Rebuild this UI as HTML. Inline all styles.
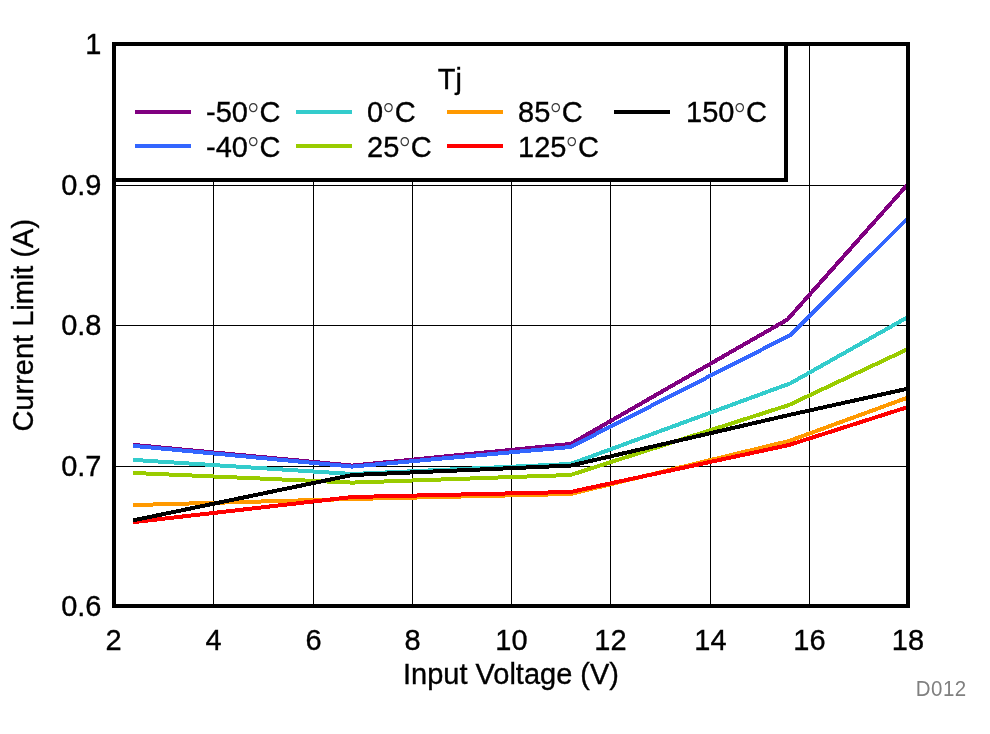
<!DOCTYPE html>
<html><head><meta charset="utf-8"><title>Current Limit vs Input Voltage</title>
<style>
html,body{margin:0;padding:0;background:#fff;}
body{width:990px;height:734px;overflow:hidden;}
svg{display:block;will-change:transform;}
text{font-family:"Liberation Sans", Arial, sans-serif;fill:#000;stroke:#000;stroke-width:0.35px;}
.deg{font-family:"DejaVu Sans",sans-serif;font-weight:200;stroke:none;fill:#383838;}
</style></head><body>
<svg width="990" height="734" viewBox="0 0 990 734">
<rect x="0" y="0" width="990" height="734" fill="#fff"/>

<g shape-rendering="crispEdges" fill="#000">
<rect x="213" y="46" width="1" height="558"/>
<rect x="313" y="46" width="1" height="558"/>
<rect x="412" y="46" width="1" height="558"/>
<rect x="511" y="46" width="1" height="558"/>
<rect x="610" y="46" width="1" height="558"/>
<rect x="710" y="46" width="1" height="558"/>
<rect x="809" y="46" width="1" height="558"/>
<rect x="116" y="185" width="790" height="1"/>
<rect x="116" y="325" width="790" height="1"/>
<rect x="116" y="466" width="790" height="1"/>
</g>
<rect x="116" y="46" width="668" height="132" fill="#fff" shape-rendering="crispEdges"/>
<g fill="none" stroke-width="4" stroke-linejoin="round" stroke-linecap="round" shape-rendering="crispEdges">
<polyline stroke="#800080" points="134.85,445.00 352.20,465.60 570.50,444.00 787.50,319.50 908.00,184.00"/>
<polyline stroke="#3366FF" points="134.85,446.00 352.20,466.60 570.50,447.00 790.50,335.00 908.00,218.00"/>
<polyline stroke="#33CCCC" points="134.85,460.00 352.20,474.00 570.50,464.00 790.50,383.30 908.00,317.00"/>
<polyline stroke="#99CC00" points="134.85,473.00 352.20,482.60 570.50,475.00 789.00,405.00 908.00,349.00"/>
<polyline stroke="#FF9900" points="134.85,505.00 352.20,499.00 570.50,494.00 789.00,441.00 908.00,397.50"/>
<polyline stroke="#FF0000" points="134.85,522.00 352.20,497.00 570.50,492.00 789.00,445.00 908.00,407.00"/>
<polyline stroke="#000000" points="134.85,520.00 352.20,475.00 570.50,465.60 789.00,415.00 908.00,388.60"/>
</g>
<g shape-rendering="crispEdges" fill="#000">
<rect x="112" y="42" width="798" height="4"/>
<rect x="112" y="604" width="798" height="4"/>
<rect x="112" y="42" width="4" height="566"/>
<rect x="906" y="42" width="4" height="566"/>
<rect x="784" y="46" width="4" height="136"/>
<rect x="116" y="178" width="672" height="4"/>
</g>
<g shape-rendering="crispEdges">
<rect x="135" y="110" width="56" height="4" fill="#800080"/>
<rect x="135" y="144" width="56" height="4" fill="#3366FF"/>
<rect x="296" y="110" width="56" height="4" fill="#33CCCC"/>
<rect x="296" y="144" width="56" height="4" fill="#99CC00"/>
<rect x="447" y="110" width="56" height="4" fill="#FF9900"/>
<rect x="447" y="144" width="56" height="4" fill="#FF0000"/>
<rect x="614" y="110" width="56" height="4" fill="#000000"/>
</g>
<g font-size="29">
<text transform="translate(437.8,89) scale(1,1.025)">Tj</text>
<text transform="translate(206,122) scale(1,1.025)">-50<tspan class="deg" font-size="32" dx="-2.6" dy="5.5">°</tspan><tspan dx="-1.8" dy="-5.5">C</tspan></text>
<text transform="translate(206,157) scale(1,1.025)">-40<tspan class="deg" font-size="32" dx="-2.6" dy="4.6">°</tspan><tspan dx="-1.8" dy="-4.6">C</tspan></text>
<text transform="translate(367,122) scale(1,1.025)">0<tspan class="deg" font-size="32" dx="-2.6" dy="5.5">°</tspan><tspan dx="-1.8" dy="-5.5">C</tspan></text>
<text transform="translate(367,157) scale(1,1.025)">25<tspan class="deg" font-size="32" dx="-2.6" dy="4.6">°</tspan><tspan dx="-1.8" dy="-4.6">C</tspan></text>
<text transform="translate(518,122) scale(1,1.025)">85<tspan class="deg" font-size="32" dx="-2.6" dy="5.5">°</tspan><tspan dx="-1.8" dy="-5.5">C</tspan></text>
<text transform="translate(518,157) scale(1,1.025)">125<tspan class="deg" font-size="32" dx="-2.6" dy="4.6">°</tspan><tspan dx="-1.8" dy="-4.6">C</tspan></text>
<text transform="translate(686,122) scale(1,1.025)">150<tspan class="deg" font-size="32" dx="-2.6" dy="5.5">°</tspan><tspan dx="-1.8" dy="-5.5">C</tspan></text>
<text transform="translate(101.5,54) scale(1,1.025)" text-anchor="end">1</text>
<text transform="translate(101.5,195) scale(1,1.025)" text-anchor="end">0.9</text>
<text transform="translate(101.5,335) scale(1,1.025)" text-anchor="end">0.8</text>
<text transform="translate(101.5,476) scale(1,1.025)" text-anchor="end">0.7</text>
<text transform="translate(101.5,616) scale(1,1.025)" text-anchor="end">0.6</text>
<text transform="translate(113.5,649.6) scale(1,1.025)" text-anchor="middle">2</text>
<text transform="translate(213.5,649.6) scale(1,1.025)" text-anchor="middle">4</text>
<text transform="translate(313.5,649.6) scale(1,1.025)" text-anchor="middle">6</text>
<text transform="translate(412.5,649.6) scale(1,1.025)" text-anchor="middle">8</text>
<text transform="translate(511.5,649.6) scale(1,1.025)" text-anchor="middle">10</text>
<text transform="translate(610.5,649.6) scale(1,1.025)" text-anchor="middle">12</text>
<text transform="translate(710.5,649.6) scale(1,1.025)" text-anchor="middle">14</text>
<text transform="translate(809.5,649.6) scale(1,1.025)" text-anchor="middle">16</text>
<text transform="translate(908,649.6) scale(1,1.025)" text-anchor="middle">18</text>
<text transform="translate(511,683.5) scale(1,1.025)" text-anchor="middle">Input Voltage (V)</text>
<text transform="translate(33,325.25) rotate(-90) scale(1,1.025)" text-anchor="middle">Current Limit (A)</text>
</g>
<text transform="translate(915.8,696) scale(1,1.06)" font-size="20.5" letter-spacing="0.45" style="fill:#808080;stroke:none">D012</text>
</svg>
</body></html>
